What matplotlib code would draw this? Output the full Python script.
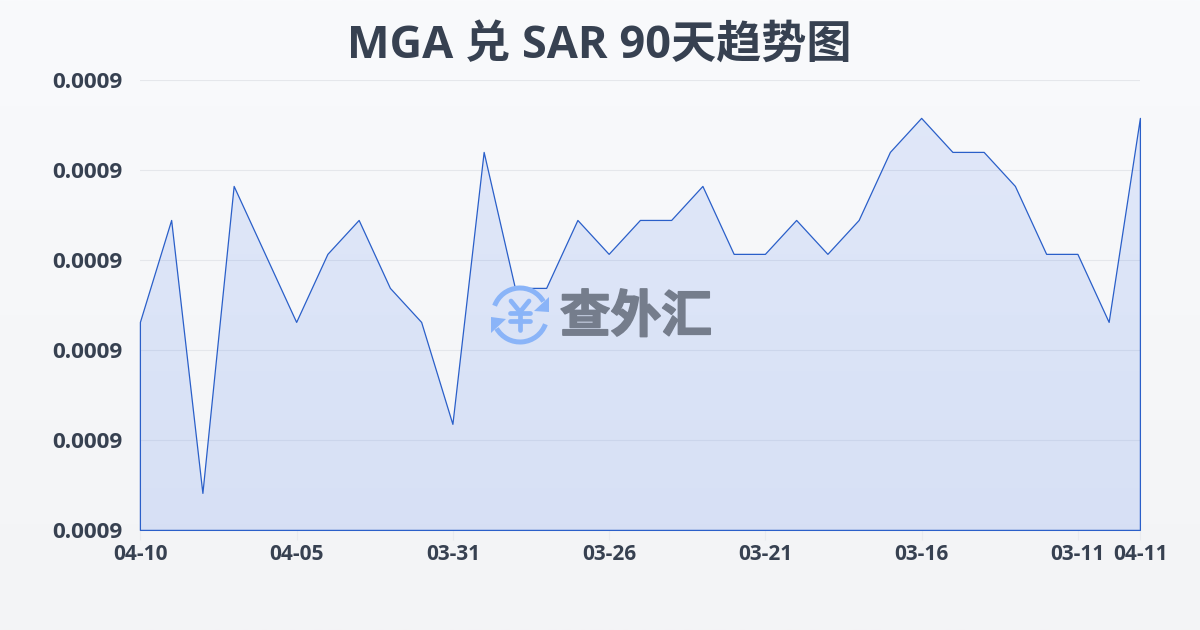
import numpy as np
import matplotlib
matplotlib.use('Agg')
import matplotlib.pyplot as plt
import matplotlib.patheffects as pe
from matplotlib.patches import Arc, Polygon
from matplotlib.transforms import ScaledTranslation

plt.rcParams['font.family'] = ['Open Sans', 'Noto Sans CJK SC', 'DejaVu Sans']

titulo = 'MGA 兑 SAR 90天趋势图'
marca = '查外汇'
rotulos_x = ['04-10', '04-05', '03-31', '03-26', '03-21', '03-16', '03-11', '04-11']
posicoes_x = [0, 5, 10, 15, 20, 25, 30, 32]
taxas = [
    0.00090311, 0.00091444, 0.00088411, 0.00091822, 0.00091067, 0.00090311,
    0.00091067, 0.00091444, 0.00090689, 0.00090311, 0.00089178, 0.00092200,
    0.00090689, 0.00090689, 0.00091444, 0.00091067, 0.00091444, 0.00091444,
    0.00091822, 0.00091067, 0.00091067, 0.00091444, 0.00091067, 0.00091444,
    0.00092200, 0.00092578, 0.00092200, 0.00092200, 0.00091822, 0.00091067,
    0.00091067, 0.00090311, 0.00092578,
]
marcas_y = [0.00088, 0.00089, 0.00090, 0.00091, 0.00092, 0.00093]

COR_TEXTO = '#374151'
COR_LINHA = '#2a5fc9'
L, A = 1200, 630

fig = plt.figure(figsize=(12, 6.3), dpi=100)

# fundo em degradê
fundo = fig.add_axes([0, 0, 1, 1], zorder=0)
grad = np.linspace(0, 1, 256).reshape(-1, 1)
c1, c2 = np.array([249, 250, 252]) / 255, np.array([243, 244, 246]) / 255
fundo.imshow(c1 + (c2 - c1) * grad[..., None], aspect='auto', extent=[0, 1, 0, 1])
fundo.axis('off')

ax = fig.add_axes([140.4 / L, 1 - 530.4 / A, 1000 / L, 450 / A], zorder=1)
ax.patch.set_alpha(0)
x = np.arange(len(taxas))

# área com degradê vertical
area = ax.fill_between(x, taxas, marcas_y[0], facecolor='none', edgecolor='none')
img = np.zeros((256, 1, 4))
img[..., :3] = [0.145, 0.388, 0.922]
img[..., 3] = np.linspace(0.11, 0.14, 256)[:, None]
im = ax.imshow(img, aspect='auto', extent=[0, 32, marcas_y[0], marcas_y[-1]], zorder=1)
im.set_clip_path(area.get_paths()[0], transform=ax.transData)
ax.set_xlim(0, 32)
ax.set_ylim(marcas_y[0], marcas_y[-1])
ax.fill_between(x, taxas, marcas_y[0], facecolor='none', edgecolor=COR_LINHA,
                linewidth=0.9, zorder=3, clip_on=False)

ax.set_yticks(marcas_y)
ax.set_yticklabels([f'{v:.4f}' for v in marcas_y], fontsize=16.2, fontweight='bold',
                   color=COR_TEXTO, va='center_baseline')
# rótulos do eixo y um pouco acima da grade
desloca = ScaledTranslation(-1 / 100, 1.5 / 100, fig.dpi_scale_trans)
for rotulo in ax.get_yticklabels():
    rotulo.set_transform(rotulo.get_transform() + desloca)
ax.set_xticks(posicoes_x)
ax.set_xticklabels(rotulos_x, fontsize=15, fontweight='bold', color=COR_TEXTO)
ax.tick_params(axis='y', length=0, pad=13)
ax.tick_params(axis='x', length=7, width=0.8, color='#e9ebef', pad=2.5)
ax.grid(axis='y', color='#e5e7eb', linewidth=0.8, zorder=0)
ax.set_axisbelow(True)
for lado in ax.spines.values():
    lado.set_visible(False)

fig.text(599 / L, 1 - 46 / A, titulo, fontsize=32.5, fontweight='bold', color=COR_TEXTO,
         ha='center', va='center')

# marca d'água em coordenadas de pixel
wm = fig.add_axes([0, 0, 1, 1], zorder=5)
wm.patch.set_alpha(0)
azul = '#8ab4f8'
cx, cy = 520, 315
# eixo y invertido: ângulos crescem no sentido horário
wm.add_patch(Arc((cx, cy), 54, 54, theta1=20, theta2=150, color=azul, lw=3.6))
wm.add_patch(Arc((cx, cy), 54, 54, theta1=200, theta2=330, color=azul, lw=3.6))
wm.add_patch(Polygon([[549, 297], [549, 312], [534, 311]], color=azul, lw=0))
wm.add_patch(Polygon([[491, 317], [506, 319], [491, 333]], color=azul, lw=0))
# símbolo do yuan
for xs, ys in [([511, 520, 529], [301, 312, 301]), ([520, 520], [312, 330]),
               ([510, 530], [313, 313]), ([510, 530], [321, 321])]:
    wm.plot(xs, ys, color=azul, lw=3.4, solid_capstyle='round', solid_joinstyle='round')
wm.set_xlim(0, L)
wm.set_ylim(A, 0)
wm.axis('off')
wm.text(636, 319, marca, fontsize=36.5, fontweight='bold', color='#757d8c',
        ha='center', va='center',
        path_effects=[pe.withStroke(linewidth=1.2, foreground='#757d8c')])

fig.savefig('out.png', dpi=100)
